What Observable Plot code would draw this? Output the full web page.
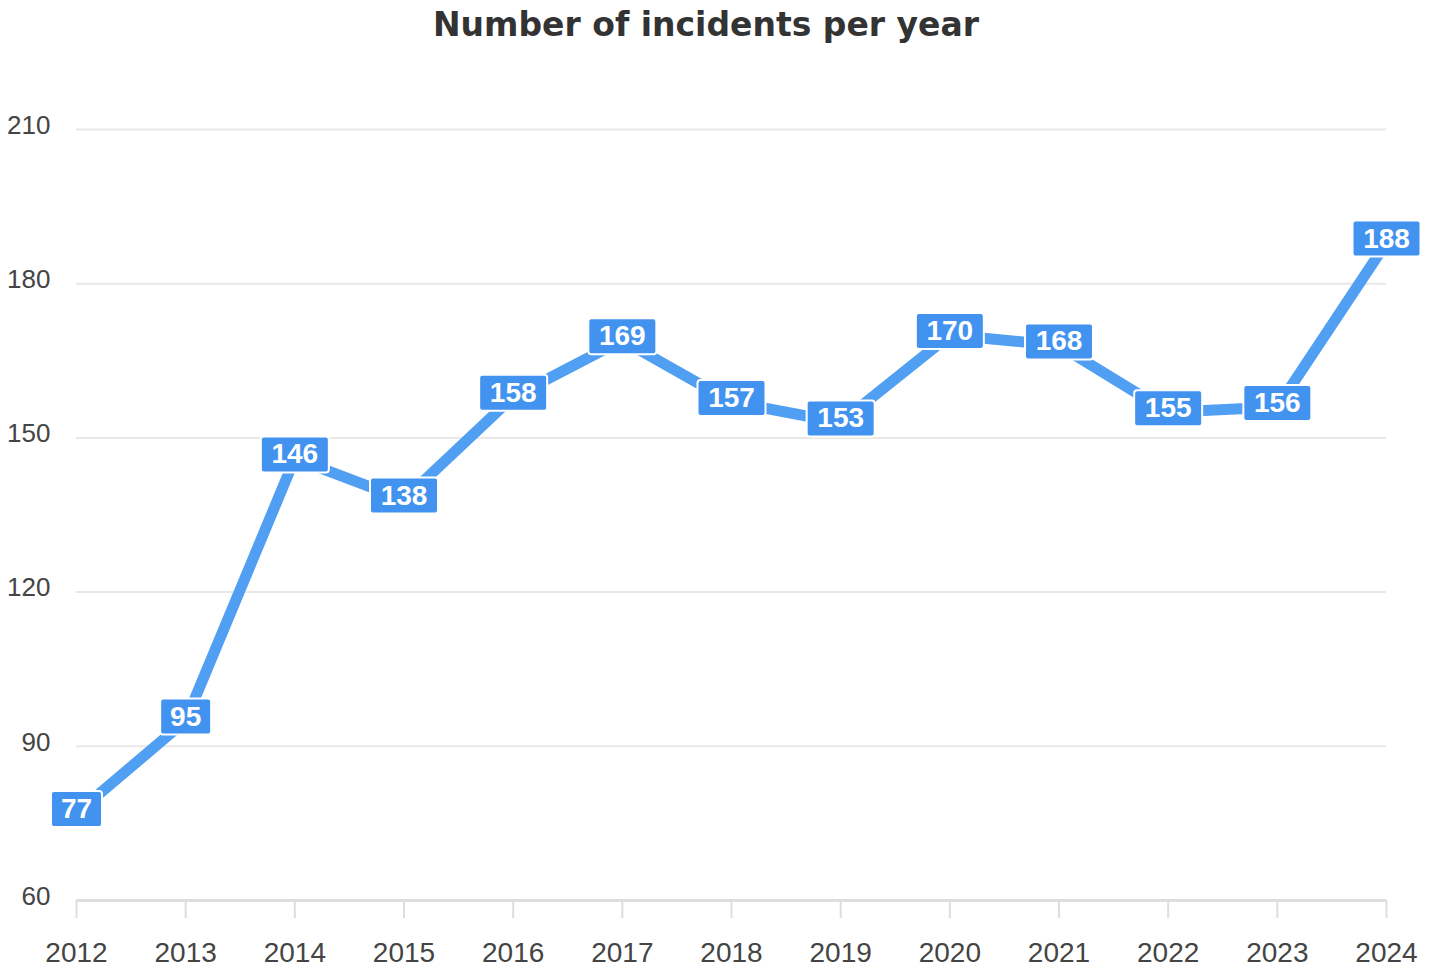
<!DOCTYPE html>
<html>
<head>
<meta charset="utf-8">
<script src="https://cdn.jsdelivr.net/npm/d3@7"></script>
<script src="https://cdn.jsdelivr.net/npm/@observablehq/plot@0.6"></script>
<style>
  html, body { margin: 0; padding: 0; background: #fff; }
  #title { height: 50px; line-height: 50px; text-align: center; padding-right: 20px; font-family: "DejaVu Sans", "Liberation Sans", Arial, sans-serif; font-weight: bold; font-size: 33px; color: #333; }
  svg { display: block; }
</style>
</head>
<body>
<div id="title">Number of incidents per year</div>
<div id="chart"></div>
<script>
const years = [2012, 2013, 2014, 2015, 2016, 2017, 2018, 2019, 2020, 2021, 2022, 2023, 2024];
const incidents = [77, 95, 146, 138, 158, 169, 157, 153, 170, 168, 155, 156, 188];
const yTicks = [60, 90, 120, 150, 180, 210];

const data = years.map((year, i) => ({year, value: incidents[i]}));

function boxSymbol(w, h, r, off) {
  return {
    draw(ctx) {
      const x0 = -w / 2, x1 = w / 2, y0 = -h / 2 + off, y1 = h / 2 + off;
      ctx.moveTo(x0 + r, y0);
      ctx.lineTo(x1 - r, y0);
      ctx.arcTo(x1, y0, x1, y0 + r, r);
      ctx.lineTo(x1, y1 - r);
      ctx.arcTo(x1, y1, x1 - r, y1, r);
      ctx.lineTo(x0 + r, y1);
      ctx.arcTo(x0, y1, x0, y1 - r, r);
      ctx.lineTo(x0, y0 + r);
      ctx.arcTo(x0, y0, x0 + r, y0, r);
      ctx.closePath();
    }
  };
}

const chart = Plot.plot({
  width: 1432,
  height: 926,
  marginLeft: 76,
  marginRight: 46,
  marginTop: 79,
  marginBottom: 76,
  style: {fontFamily: '"Liberation Sans", Arial, sans-serif', background: "#fff"},
  x: {type: "linear", domain: [2012, 2024], label: null},
  y: {domain: [60, 210], label: null},
  marks: [
    Plot.ruleY(yTicks.filter(d => d !== 60), {stroke: "#e8e8e8", strokeWidth: 2}),
    Plot.ruleY([60], {stroke: "#dedede", strokeWidth: 3}),
    Plot.axisX({ticks: years, tickFormat: d => String(d), tickSize: 18, tickPadding: 24, fontSize: 28, stroke: "#dedede", strokeWidth: 2, fill: "#444", label: null}),
    Plot.axisY({ticks: yTicks, tickSize: 0, tickPadding: 26, fontSize: 26, dy: -4, fill: "#444", label: null}),
    Plot.line(data, {x: "year", y: "value", stroke: "#519ff3", strokeWidth: 11, strokeLinejoin: "round", strokeLinecap: "round"}),
    Plot.dot(data.filter(d => d.value < 100), {x: "year", y: "value", symbol: boxSymbol(51, 36, 3, -4), fill: "#4293ef", stroke: "#fff", strokeWidth: 2, r: 10}),
    Plot.dot(data.filter(d => d.value >= 100), {x: "year", y: "value", symbol: boxSymbol(68, 36, 3, -4), fill: "#4293ef", stroke: "#fff", strokeWidth: 2, r: 10}),
    Plot.text(data, {x: "year", y: "value", text: d => String(d.value), fill: "#fff", fontSize: 28, fontWeight: "bold", dy: -4})
  ]
});
document.getElementById("chart").appendChild(chart);
</script>
</body>
</html>
